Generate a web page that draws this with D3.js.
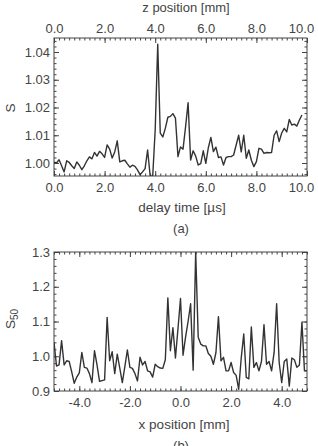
<!DOCTYPE html>
<html>
<head>
<meta charset="utf-8">
<script src="https://cdn.jsdelivr.net/npm/d3@7"></script>
<style>
  body { margin: 0; background: #fff; }
  svg text { font-family: "Liberation Sans", Arial, Helvetica, sans-serif; fill: #444; }
</style>
</head>
<body>
<div id="chart"></div>
<script>
// panel (a): S against delay time, one sample every 0.1 us
const delayStart = 0;
const delayStep = 0.1;
const sValues = [
  1.0003, 1.0000, 1.0012, 0.9990, 0.9968, 1.0008, 1.0002, 0.9990, 0.9980, 1.0004,
  0.9992, 0.9976, 0.9990, 1.0008, 1.0022, 1.0015, 1.0038, 1.0025, 1.0042, 1.0033,
  1.0020, 1.0065, 1.0050, 1.0018, 1.0040, 1.0080, 1.0004, 1.0008, 1.0010, 0.9997,
  0.9985, 0.9992, 0.9988, 0.9975, 0.9958, 0.9968, 0.9980, 1.0047, 0.9955, 0.9950,
  1.0120, 1.0428, 1.0108, 1.0094, 1.0125, 1.0165, 1.0168, 1.0178, 1.0162, 1.0023,
  1.0058, 1.0050, 1.0130, 1.0217, 1.0011, 1.0044, 1.0025, 0.9993, 0.9998, 1.0044,
  0.9999, 1.0055, 1.0092, 1.0041, 1.0057, 1.0020, 1.0022, 0.9993, 1.0020, 1.0023,
  1.0023, 1.0029, 1.0065, 1.0100, 1.0040, 1.0100, 1.0017, 1.0047, 1.0010, 0.9987,
  1.0005, 1.0053, 1.0050, 1.0035, 1.0038, 1.0037, 1.0038, 1.0100, 1.0116, 1.0077,
  1.0108, 1.0125, 1.0112, 1.0157, 1.0137, 1.0140, 1.0133, 1.0155, 1.0173
];
const delayTicks = [0, 2, 4, 6, 8, 10];
const sTicks = [1.00, 1.01, 1.02, 1.03, 1.04];

// panel (b): S50 against x position, one sample every 0.1 mm
const xStart = -5;
const xStep = 0.1;
const s50Values = [
  1.040, 0.972, 0.975, 1.045, 0.975, 0.987, 0.985, 0.955, 0.922, 0.940,
  0.952, 1.011, 0.968, 0.966, 0.950, 0.924, 1.016, 0.975, 0.928, 0.930,
  0.932, 1.112, 0.987, 1.013, 0.950, 1.006, 0.966, 0.924, 0.970, 1.018,
  0.968, 0.965, 0.950, 0.929, 0.997, 0.975, 0.985, 0.958, 0.955, 0.940,
  0.977, 0.970, 0.966, 0.965, 0.990, 1.168, 1.016, 1.082, 0.995, 1.079,
  1.166, 1.003, 1.055, 1.100, 1.151, 0.960, 1.300, 1.055, 1.035, 1.030,
  1.030, 1.008, 1.000, 0.977, 1.010, 1.114, 0.987, 0.997, 0.958, 0.958,
  0.982, 0.953, 0.945, 0.905, 0.995, 1.064, 0.939, 0.935, 1.084, 0.968,
  0.982, 0.958, 0.985, 1.091, 0.977, 0.985, 0.958, 1.011, 1.151, 0.982,
  0.924, 0.985, 0.992, 0.914, 0.995, 0.990, 0.968, 0.975, 1.098, 0.958,
  0.958
];
const xTicks = [-4, -2, 0, 2, 4];
const s50Ticks = [0.9, 1.0, 1.1, 1.2, 1.3];

const W = 318, H = 446;
const left = 54, right = 307;
const ink = "#444";

const svg = d3.select("#chart").append("svg")
  .attr("width", W)
  .attr("height", H);

function drawPanel(p) {
  const x = d3.scaleLinear().domain(p.xDomain).range([left, right]);
  const y = d3.scaleLinear().domain(p.yDomain).range([p.bottom, p.top]);
  const g = svg.append("g");

  const xMinor = d3.range(p.xDomain[0], p.xDomain[1] + 1e-9, p.xMinorStep);
  const yMinor = d3.range(p.yMinorStart, p.yDomain[1], p.yMinorStep);
  const fmtX = (d) => d.toFixed(1);

  // minor ticks, all four sides
  const minor = [
    [d3.axisBottom(x).tickValues(xMinor), `translate(0,${p.bottom})`],
    [d3.axisTop(x).tickValues(xMinor), `translate(0,${p.top})`],
    [d3.axisLeft(y).tickValues(yMinor), `translate(${left},0)`],
    [d3.axisRight(y).tickValues(yMinor), `translate(${right},0)`]
  ];
  minor.forEach(([ax, tr]) => {
    g.append("g").attr("transform", tr)
      .call(ax.tickSize(-2.5).tickFormat(""))
      .attr("color", ink)
      .call((s) => s.select(".domain").remove());
  });

  // major ticks
  const major = [
    [d3.axisBottom(x).tickValues(p.xTicks).tickFormat(fmtX).tickPadding(7), `translate(0,${p.bottom})`],
    [d3.axisTop(x).tickValues(p.xTicks).tickFormat(p.topLabels ? fmtX : "").tickPadding(5), `translate(0,${p.top})`],
    [d3.axisLeft(y).tickValues(p.yTicks).tickFormat(p.yFmt).tickPadding(4), `translate(${left},0)`],
    [d3.axisRight(y).tickValues(p.yTicks).tickFormat(""), `translate(${right},0)`]
  ];
  major.forEach(([ax, tr]) => {
    const a = g.append("g").attr("transform", tr)
      .call(ax.tickSize(-5))
      .attr("color", ink)
      .attr("font-size", 13)
      .attr("font-family", null)
      .call((s) => s.select(".domain").remove());
    // keep the last label inside the picture
    a.selectAll(".tick text")
      .filter((d) => d === p.xDomain[1])
      .attr("dx", -6);
  });

  g.append("rect")
    .attr("x", left).attr("y", p.top)
    .attr("width", right - left).attr("height", p.bottom - p.top)
    .attr("fill", "none").attr("stroke", ink).attr("stroke-width", 1);

  g.append("clipPath").attr("id", p.id)
    .append("rect")
    .attr("x", left).attr("y", p.top)
    .attr("width", right - left).attr("height", p.bottom - p.top);

  const line = d3.line()
    .x((d, i) => x(p.start + i * p.step))
    .y((d) => y(d));

  g.append("path")
    .datum(p.values)
    .attr("clip-path", `url(#${p.id})`)
    .attr("d", line)
    .attr("fill", "none")
    .attr("stroke", "#333")
    .attr("stroke-width", 1.4)
    .attr("stroke-linejoin", "round");

  return g;
}

const ga = drawPanel({
  id: "clipA", top: 38, bottom: 176,
  xDomain: [0, 10], yDomain: [0.99532, 1.04505],
  xTicks: delayTicks, yTicks: sTicks,
  xMinorStep: 0.2, yMinorStart: 0.996, yMinorStep: 0.002,
  yFmt: (d) => d.toFixed(2), topLabels: true,
  start: delayStart, step: delayStep, values: sValues
});

ga.append("text").attr("x", 186).attr("y", 12)
  .attr("text-anchor", "middle").attr("font-size", 13)
  .text("z position [mm]");
ga.append("text").attr("x", 182).attr("y", 212)
  .attr("text-anchor", "middle").attr("font-size", 13.5)
  .text("delay time [µs]");
ga.append("text").attr("x", 181).attr("y", 233)
  .attr("text-anchor", "middle").attr("font-size", 13)
  .text("(a)");
ga.append("text")
  .attr("transform", "translate(15,108) rotate(-90)")
  .attr("text-anchor", "middle").attr("font-size", 13.5)
  .text("S");

const gb = drawPanel({
  id: "clipB", top: 252, bottom: 391,
  xDomain: [-5, 5], yDomain: [0.9, 1.3],
  xTicks: xTicks, yTicks: s50Ticks,
  xMinorStep: 0.2, yMinorStart: 0.92, yMinorStep: 0.02,
  yFmt: (d) => d.toFixed(1), topLabels: false,
  start: xStart, step: xStep, values: s50Values
});

gb.append("text").attr("x", 184).attr("y", 429)
  .attr("text-anchor", "middle").attr("font-size", 13.5)
  .text("x position [mm]");
// the caption sits at the lower edge, partly cut, as in the original
gb.append("text").attr("x", 181).attr("y", 450)
  .attr("text-anchor", "middle").attr("font-size", 13)
  .text("(b)");
const s50 = gb.append("text")
  .attr("transform", "translate(15,319) rotate(-90)")
  .attr("text-anchor", "middle").attr("font-size", 13.5);
s50.append("tspan").text("S");
s50.append("tspan").attr("font-size", 10).attr("dy", 3).text("50");
</script>
</body>
</html>
